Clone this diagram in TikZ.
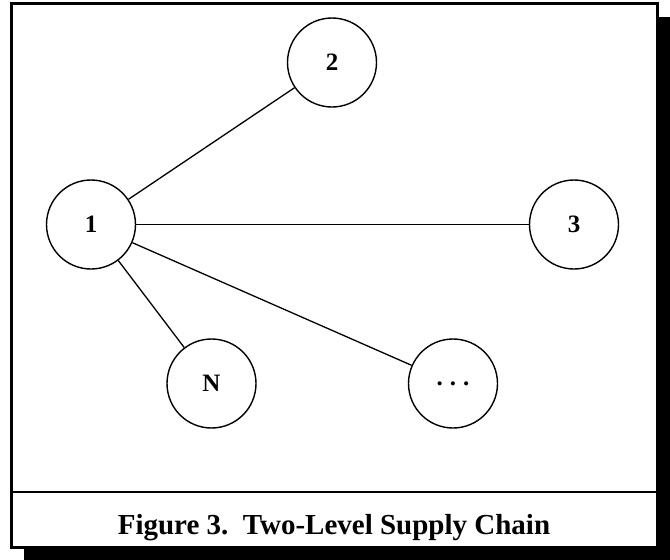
\documentclass[tikz,border=0pt]{standalone}
\usepackage{fontspec}
\setmainfont{Liberation Serif}
\begin{document}
\begin{tikzpicture}[x=1pt,y=-1pt,
  site/.style={draw,circle,line width=1.4pt,minimum size=89pt,inner sep=0pt,
    font=\fontsize{25}{30}\selectfont\bfseries},
  link/.style={line width=1.3pt}]
\useasboundingbox (0,0) rectangle (670,560);
% drop shadow and frame
\fill[black] (24,17) rectangle (670,560);
\draw[line width=3pt,fill=white] (11,3) rectangle (657,547);
\draw[line width=2.2pt] (11,492) -- (657,492);
% supply chain nodes
\node[site] (n1) at (91,224.5) {1};
\node[site] (n2) at (332,62.5) {2};
\node[site] (n3) at (574,224.5) {3};
\node[site] (nN) at (211.5,383.5) {N};
\node[site,text height=3.5pt,text depth=0pt] (nd) at (453,383.5)
  {.\hspace{7pt}.\hspace{7pt}.};
\draw[link] (n1) -- (n2);
\draw[link] (n1) -- (n3);
\draw[link] (n1) -- (nN);
\draw[link] (n1) -- (nd);
% caption
\node[anchor=base,inner sep=0pt,font=\fontsize{29}{34}\selectfont\bfseries] (cap) at (334,534)
  {Figure 3.\ \ Two-Level Supply Chain};
\end{tikzpicture}
\end{document}
